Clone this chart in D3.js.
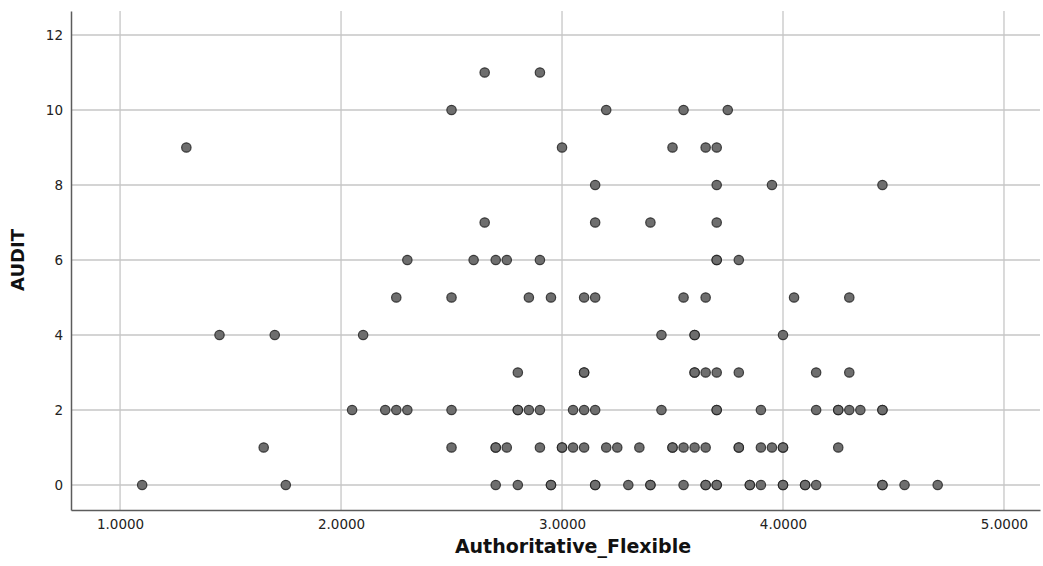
<!DOCTYPE html>
<html>
<head>
<meta charset="utf-8">
<script src="https://cdn.jsdelivr.net/npm/d3@7"></script>
<style>
  html, body { margin: 0; padding: 0; background: #fff; }
  svg { display: block; }
</style>
</head>
<body>
<svg id="chart" width="1043" height="566"></svg>
<script>
// Authoritative_Flexible scores, grouped by AUDIT score (repeated values are overlapping cases)
const audit0  = [1.10, 1.75, 2.70, 2.80, 2.95, 2.95, 3.15, 3.15, 3.30, 3.40, 3.40, 3.55, 3.65, 3.65, 3.70, 3.70, 3.85, 3.85, 3.90, 4.00, 4.00, 4.10, 4.10, 4.15, 4.45, 4.45, 4.55, 4.70];
const audit1  = [1.65, 2.50, 2.70, 2.70, 2.75, 2.90, 3.00, 3.00, 3.05, 3.10, 3.20, 3.25, 3.35, 3.50, 3.50, 3.55, 3.60, 3.65, 3.80, 3.80, 3.90, 3.95, 4.00, 4.00, 4.25];
const audit2  = [2.05, 2.20, 2.25, 2.30, 2.50, 2.80, 2.80, 2.85, 2.90, 3.05, 3.10, 3.15, 3.45, 3.70, 3.70, 3.90, 4.15, 4.25, 4.25, 4.30, 4.35, 4.45, 4.45];
const audit3  = [2.80, 3.10, 3.10, 3.60, 3.60, 3.65, 3.70, 3.80, 4.15, 4.30];
const audit4  = [1.45, 1.70, 2.10, 3.45, 3.60, 3.60, 4.00];
const audit5  = [2.25, 2.50, 2.85, 2.95, 3.10, 3.15, 3.55, 3.65, 4.05, 4.30];
const audit6  = [2.30, 2.60, 2.70, 2.75, 2.90, 3.70, 3.70, 3.80];
const audit7  = [2.65, 3.15, 3.40, 3.70];
const audit8  = [3.15, 3.70, 3.95, 4.45];
const audit9  = [1.30, 3.00, 3.50, 3.65, 3.70];
const audit10 = [2.50, 3.20, 3.55, 3.75];
const audit11 = [2.65, 2.90];

const auditScores = [0, 1, 2, 3, 4, 5, 6, 7, 8, 9, 10, 11];
const flexibleByAudit = [audit0, audit1, audit2, audit3, audit4, audit5, audit6, audit7, audit8, audit9, audit10, audit11];

const xTicks = [1, 2, 3, 4, 5];
const yTicks = [0, 2, 4, 6, 8, 10, 12];

const xTitle = "Authoritative_Flexible";
const yTitle = "AUDIT";

// flatten to one record per case
const cases = [];
auditScores.forEach((a, i) => flexibleByAudit[i].forEach(f => cases.push({ flexible: f, audit: a })));

const svg = d3.select("#chart");
const plot = { left: 71, right: 1040, top: 11, bottom: 510 };

const x = d3.scaleLinear().domain([0.778, 5.163]).range([plot.left, plot.right]);
const y = d3.scaleLinear().domain([-0.667, 12.64]).range([plot.bottom, plot.top]);

const tickFont = "DejaVu Sans, sans-serif";

// grid lines
svg.append("g").selectAll("line.vg").data(xTicks).join("line")
  .attr("x1", d => x(d)).attr("x2", d => x(d))
  .attr("y1", plot.top).attr("y2", plot.bottom)
  .attr("stroke", "#c6c6c6").attr("stroke-width", 1.3);

svg.append("g").selectAll("line.hg").data(yTicks).join("line")
  .attr("x1", plot.left).attr("x2", plot.right)
  .attr("y1", d => y(d)).attr("y2", d => y(d))
  .attr("stroke", "#c6c6c6").attr("stroke-width", 1.3);

// x axis
const xAxis = d3.axisBottom(x).tickValues(xTicks).tickFormat(d3.format(".4f")).tickSize(0).tickPadding(9);
const gx = svg.append("g").attr("transform", `translate(0,${plot.bottom})`).call(xAxis);
gx.select(".domain").attr("stroke", "#5c5c5c").attr("stroke-width", 1.5);
gx.selectAll("text").attr("font-family", tickFont).attr("font-size", 13.5).attr("fill", "#222");

// y axis
const yAxis = d3.axisLeft(y).tickValues(yTicks).tickFormat(d3.format("d")).tickSize(0).tickPadding(8);
const gy = svg.append("g").attr("transform", `translate(${plot.left},0)`).call(yAxis);
gy.select(".domain").attr("stroke", "#5c5c5c").attr("stroke-width", 1.5);
gy.selectAll("text").attr("font-family", tickFont).attr("font-size", 13.5).attr("fill", "#222");

// points
svg.append("g").selectAll("circle").data(cases).join("circle")
  .attr("cx", d => x(d.flexible))
  .attr("cy", d => y(d.audit))
  .attr("r", 4.7)
  .attr("fill", "#6e6e6e")
  .attr("stroke", "#1e1e1e")
  .attr("stroke-opacity", 0.8)
  .attr("stroke-width", 1.2);

// axis titles
svg.append("text")
  .attr("x", 573).attr("y", 553)
  .attr("text-anchor", "middle")
  .attr("font-family", "DejaVu Sans, sans-serif")
  .attr("font-weight", "bold")
  .attr("font-size", 19)
  .attr("fill", "#111")
  .text(xTitle);

svg.append("text")
  .attr("transform", "translate(24,260) rotate(-90)")
  .attr("text-anchor", "middle")
  .attr("font-family", "DejaVu Sans, sans-serif")
  .attr("font-weight", "bold")
  .attr("font-size", 18)
  .attr("fill", "#111")
  .text(yTitle);
</script>
</body>
</html>
